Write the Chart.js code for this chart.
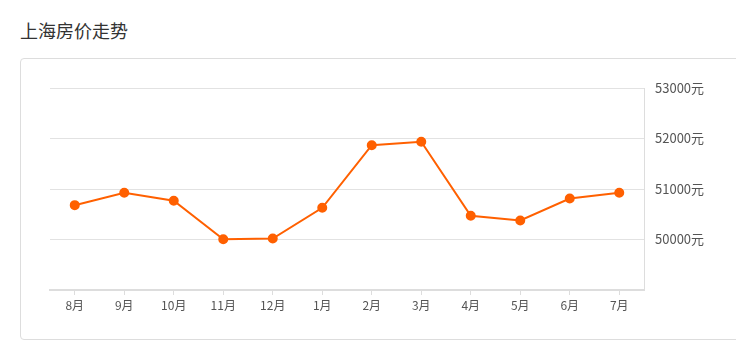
<!DOCTYPE html>
<html>
<head>
<meta charset="utf-8">
<script src="https://cdn.jsdelivr.net/npm/chart.js@4/dist/chart.umd.min.js"></script>
<style>
    body { margin: 0; background: #fff; width: 736px; height: 359px; overflow: hidden; position: relative; }
    .title { position: absolute; left: 20px; top: 17px; font: 18px "Noto Sans CJK SC", sans-serif; color: #333; }
    .card { position: absolute; left: 20px; top: 58px; width: 740px; height: 280px; border: 1px solid #ddd; border-radius: 4px; }
    #chartWrap { position: absolute; left: 0; top: 0; width: 736px; height: 359px; }
</style>
</head>
<body>
<div class="title">上海房价走势</div>
<div class="card"></div>
<div id="chartWrap"><canvas id="priceChart"></canvas></div>
<script>
const months = ['8月', '9月', '10月', '11月', '12月', '1月', '2月', '3月', '4月', '5月', '6月', '7月'];
const prices = [50680, 50925, 50766, 50006, 50020, 50628, 51867, 51935, 50469, 50376, 50812, 50925];
const yTicks = [49000, 50000, 51000, 52000, 53000];

const fontFamily = '"Noto Sans CJK SC", sans-serif';

new Chart(document.getElementById('priceChart'), {
    type: 'line',
    data: {
        labels: months,
        datasets: [{
            data: prices,
            borderColor: '#ff6000',
            backgroundColor: '#ff6000',
            borderWidth: 2,
            pointRadius: 4,
            pointHoverRadius: 4,
            tension: 0
        }]
    },
    options: {
        responsive: true,
        maintainAspectRatio: false,
        animation: false,
        layout: { padding: { left: 50, top: 88, right: 0, bottom: 0 } },
        plugins: {
            legend: { display: false },
            tooltip: { enabled: false }
        },
        scales: {
            x: {
                offset: true,
                grid: { offset: false, drawOnChartArea: false, drawTicks: true, tickLength: 5, tickColor: '#ddd' },
                border: { color: '#ddd', width: 2 },
                ticks: { color: '#555', font: { family: fontFamily, size: 12 }, padding: 3, maxRotation: 0 },
                afterFit: (scale) => { scale.height = 69; }
            },
            y: {
                position: 'right',
                min: yTicks[0],
                max: yTicks[yTicks.length - 1],
                afterBuildTicks: (scale) => { scale.ticks = yTicks.map(v => ({ value: v })); },
                grid: { color: '#e2e2e2', drawTicks: false },
                border: { color: '#ddd', width: 1 },
                ticks: {
                    color: '#555',
                    font: { family: fontFamily, size: 13 },
                    padding: 11,
                    callback: (v) => v === yTicks[0] ? '' : v + '元'
                },
                afterFit: (scale) => { scale.width = 92; }
            }
        }
    }
});
</script>
</body>
</html>
